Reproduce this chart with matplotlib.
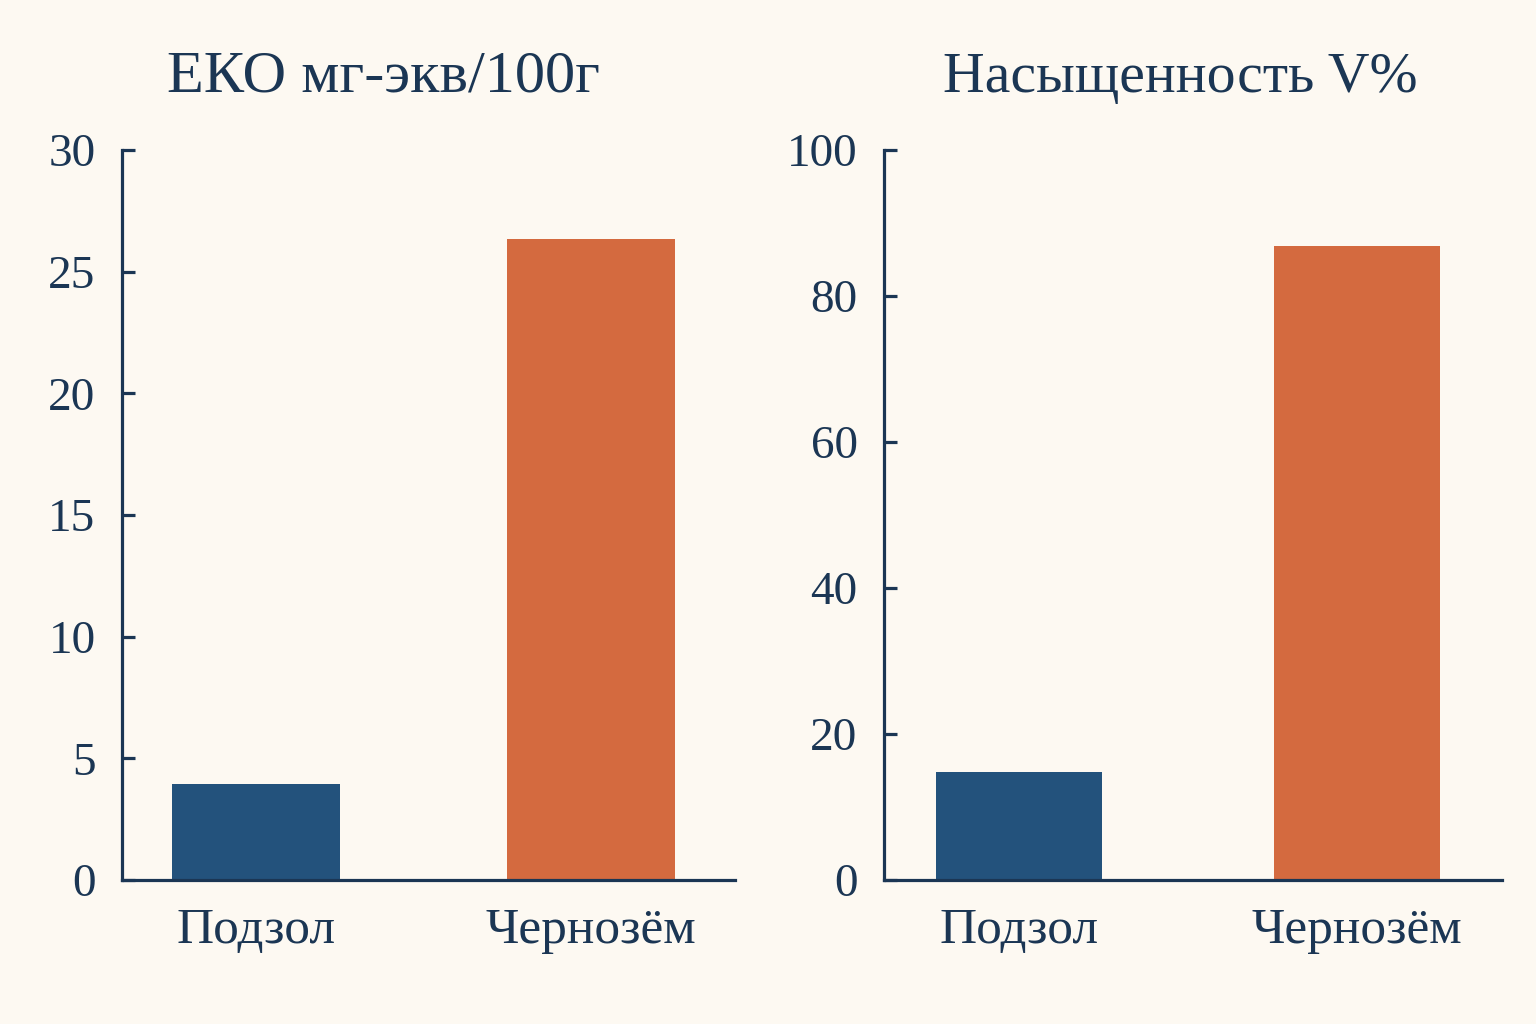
import matplotlib
matplotlib.use("Agg")
import matplotlib.pyplot as plt

categories = ["Подзол", "Чернозём"]
cec_values = [3.95, 26.35]
sat_values = [14.8, 86.8]
cec_ticks = [0, 5, 10, 15, 20, 25, 30]
sat_ticks = [0, 20, 40, 60, 80, 100]
titles = ["ЕКО мг-экв/100г", "Насыщенность V%"]

bg = "#FDF9F2"
ink = "#1B3654"
bar_colors = ["#23527C", "#D46A3F"]

plt.rcParams["font.family"] = ["Liberation Serif", "DejaVu Serif"]

fig = plt.figure(figsize=(15.36, 10.24), dpi=100, facecolor=bg)
ax1 = fig.add_axes([122/1536, 1-880/1024, 613/1536, 730/1024])
ax2 = fig.add_axes([884/1536, 1-880/1024, 618/1536, 730/1024])

for ax, vals, ticks, title, tx, w, tsize in [
    (ax1, cec_values, cec_ticks, titles[0], 0.426, 0.5, 43.5),
    (ax2, sat_values, sat_ticks, titles[1], 0.479, 0.49, 41.6),
]:
    ax.set_facecolor(bg)
    ax.bar(range(len(categories)), vals, width=w, color=bar_colors)
    ax.set_xlim(-0.4, 1.43)
    ax.set_ylim(ticks[0], ticks[-1])
    ax.set_yticks(ticks)
    ax.set_xticks(range(len(categories)))
    ax.set_xticklabels(categories)
    for s in ["top", "right"]:
        ax.spines[s].set_visible(False)
    for s in ["left", "bottom"]:
        ax.spines[s].set_color(ink)
        ax.spines[s].set_linewidth(2.3)
    ax.tick_params(axis="y", direction="in", length=9, width=2.3, color=ink,
                   labelcolor=ink, labelsize=34, pad=19)
    ax.tick_params(axis="x", length=0, labelcolor=ink, labelsize=37, pad=20)
    ax.set_title(title, fontsize=tsize, color=ink, x=tx, pad=42)

fig.savefig("out.png", dpi=100, facecolor=bg)
